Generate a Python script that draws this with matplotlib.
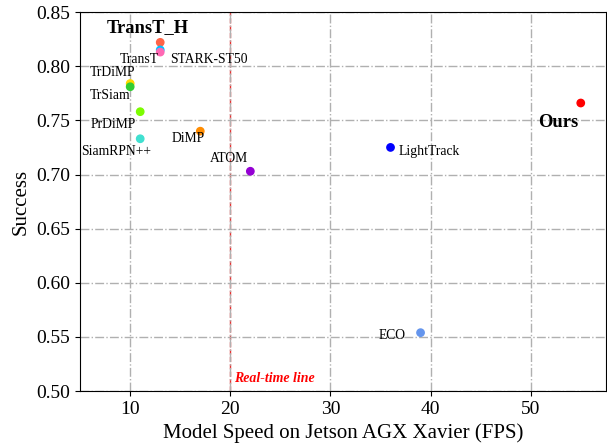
import matplotlib.pyplot as plt

plt.rcParams['font.family'] = ['Liberation Serif', 'DejaVu Serif']

# data
trackers = ['TransT_H', 'STARK-ST50', 'TransT', 'TrDiMP', 'TrSiam', 'PrDiMP',
            'SiamRPN++', 'DiMP', 'ATOM', 'LightTrack', 'ECO', 'Ours']
fps = [13, 13, 13, 10, 10, 11, 11, 17, 22, 36, 39, 55]
success = [0.822, 0.815, 0.813, 0.784, 0.781, 0.758, 0.733, 0.740, 0.703, 0.725, 0.554, 0.766]
colors = ['tomato', 'deepskyblue', 'hotpink', 'gold', 'limegreen', 'lawngreen',
          'turquoise', 'darkorange', 'darkviolet', 'blue', 'cornflowerblue', 'red']

# label positions (x, y)
label_pos = {
    'TransT_H':   (7.7, 0.836),
    'TransT':     (12.9, 0.806),
    'STARK-ST50': (14.0, 0.806),
    'TrDiMP':     (6.0, 0.794),
    'TrSiam':     (6.0, 0.773),
    'PrDiMP':     (6.1, 0.746),
    'SiamRPN++':  (5.1, 0.721),
    'DiMP':       (14.1, 0.733),
    'ATOM':       (18.0, 0.715),
    'LightTrack': (36.8, 0.721),
    'ECO':        (34.8, 0.551),
    'Ours':       (50.7, 0.748),
}

fig = plt.figure(figsize=(6.07, 4.45), dpi=100)
ax = fig.add_axes([0.132, 0.121, 0.866, 0.852])

ax.grid(True, linestyle='-.', color='#b0b0b0', linewidth=1, zorder=0)
ax.axvline(20, color='#e83030', linestyle='--', linewidth=1, zorder=1)
ax.text(20.4, 0.512, 'Real-time line', color='red', fontsize=10,
        fontweight='bold', fontstyle='italic', va='center')

ax.scatter(fps, success, c=colors, s=28, zorder=3)

for name in trackers:
    x, y = label_pos[name]
    if name in ('TransT_H', 'Ours'):
        ax.text(x, y, name, fontsize=13.3, fontweight='bold', va='center')
    elif name == 'TransT':
        ax.text(x, y, name, fontsize=9.8, va='center', ha='right')
    else:
        ax.text(x, y, name, fontsize=9.8, va='center')

ax.set_xlim(5, 57.5)
ax.set_ylim(0.50, 0.85)
ax.set_xticks([10, 20, 30, 40, 50])
ax.set_yticks([0.50, 0.55, 0.60, 0.65, 0.70, 0.75, 0.80, 0.85])
ax.set_yticklabels(['%.2f' % v for v in ax.get_yticks()])
ax.tick_params(labelsize=14)
ax.set_xlabel('Model Speed on Jetson AGX Xavier (FPS)', fontsize=15)
ax.set_ylabel('Success', fontsize=15)

fig.savefig('out.png', dpi=100)
